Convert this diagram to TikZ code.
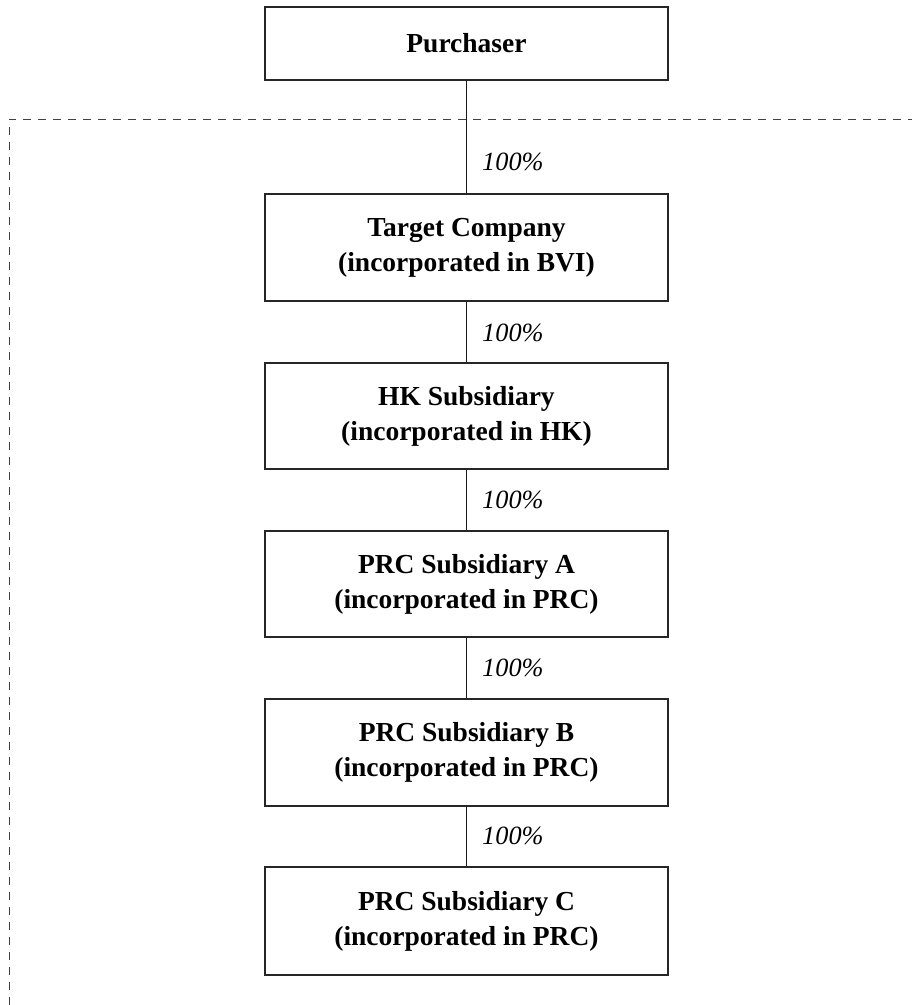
\documentclass[tikz,border=0pt]{standalone}
\usepackage{fontspec}
\setmainfont{Liberation Serif}
\begin{document}
\begin{tikzpicture}[x=1pt,y=-1pt,
  box/.style={draw=black!85, line width=1.2pt, minimum width=403pt, inner sep=0pt,
    font=\fontsize{27.5}{35}\selectfont\bfseries, align=center, text=black},
  pct/.style={font=\fontsize{26.3}{30}\selectfont\itshape, anchor=west, inner sep=0pt},
  link/.style={draw=black!90, line width=1.1pt},
  region/.style={draw=black!75, line width=1pt, dash pattern=on 8pt off 7pt}]
\useasboundingbox (0,0) rectangle (912,1005);
\node[box, minimum height=73pt] (p) at (466.5,43.5) {Purchaser};
\node[box, minimum height=107pt] (t) at (466.5,247.5) {Target Company\\(incorporated in BVI)};
\node[box, minimum height=106pt] (hk) at (466.5,416) {HK Subsidiary\\(incorporated in HK)};
\node[box, minimum height=106pt] (a) at (466.5,584) {PRC Subsidiary A\\(incorporated in PRC)};
\node[box, minimum height=107pt] (b) at (466.5,752.5) {PRC Subsidiary B\\(incorporated in PRC)};
\node[box, minimum height=108pt] (c) at (466.5,921) {PRC Subsidiary C\\(incorporated in PRC)};
\coordinate (d1) at (9,1005);
\coordinate (d2) at (9,119);
\coordinate (d3) at (912,119);
\draw[region] (d1) -- (d2) -- (d3);
\draw[link] (p) -- (t);
\draw[link] (t) -- (hk);
\draw[link] (hk) -- (a);
\draw[link] (a) -- (b);
\draw[link] (b) -- (c);
\node[pct] (l1) at (482,162) {100\%};
\node[pct] (l2) at (482,333) {100\%};
\node[pct] (l3) at (482,500) {100\%};
\node[pct] (l4) at (482,668) {100\%};
\node[pct] (l5) at (482,836) {100\%};
\end{tikzpicture}
\end{document}
